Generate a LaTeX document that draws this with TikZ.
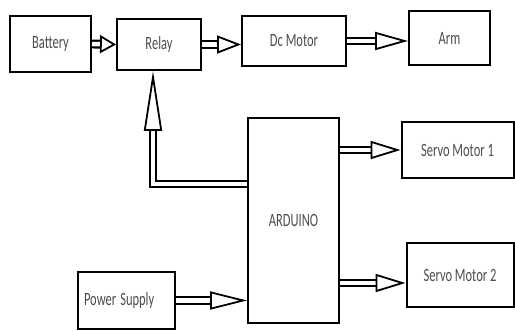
\documentclass[tikz,border=0pt]{standalone}
\usepackage{fontspec}
\setmainfont{Carlito}
\usetikzlibrary{arrows.meta}

\tikzset{
  box/.style={draw, line width=2pt, inner sep=0pt, text=black!70,
    font=\fontsize{12.5}{14}\selectfont},
  flow/.style={line width=2.2pt, double, double distance=4.5pt,
    -{Triangle[open, length=#1, width=18pt, line width=1.8pt]}},
  flow/.default=28pt
}
\newcommand{\tall}[1]{\scalebox{1}[1.5]{#1}}

\begin{document}
\begin{tikzpicture}[x=1pt, y=1pt]
    \useasboundingbox (0,0) rectangle (515,330);

    % top row
    \node[box, minimum width=81pt, minimum height=56pt] (battery) at (50.5,286) {\tall{Battery}};
    \node[box, minimum width=84pt, minimum height=51pt] (relay) at (159,285.5) {\tall{Relay}};
    \node[box, minimum width=104pt, minimum height=50pt] (dcmotor) at (294,289) {\tall{Dc Motor}};
    \node[box, minimum width=81pt, minimum height=54pt] (arm) at (449.5,292) {\tall{Arm}};

    % controller and servos
    \node[box, minimum width=91pt, minimum height=205pt] (arduino) at (293.5,109.5) {\tall{ARDUINO}};
    \node[box, minimum width=112pt, minimum height=56pt] (servo1) at (457.5,180) {\tall{Servo Motor 1}};
    \node[box, minimum width=107pt, minimum height=64pt] (servo2) at (460,55) {\tall{Servo Motor 2}};
    \node[box, minimum width=97pt, minimum height=57pt, text width=85pt, align=left] (power) at (126.5,29.5) {\tall{Power Supply}};

    % links
    \draw[flow=16pt] (battery.east) -- (relay.west);
    \draw[flow=24pt] (relay.east) -- (relay.east -| dcmotor.west);
    \draw[flow=33pt] (dcmotor.east) -- (dcmotor.east -| arm.west);
    \draw[flow=30pt] (servo1.west -| arduino.east) -- (servo1.west);
    \draw[flow=30pt] ([yshift=-8pt]servo2.west -| arduino.east) -- ([yshift=-8pt]servo2.west);
    \draw[flow=37pt] (power.east) -- (power.east -| arduino.west);

    % feedback to the relay
    \draw[flow=60pt] ([yshift=36.5pt]arduino.west) -| ([xshift=-6pt]relay.south);
\end{tikzpicture}
\end{document}
